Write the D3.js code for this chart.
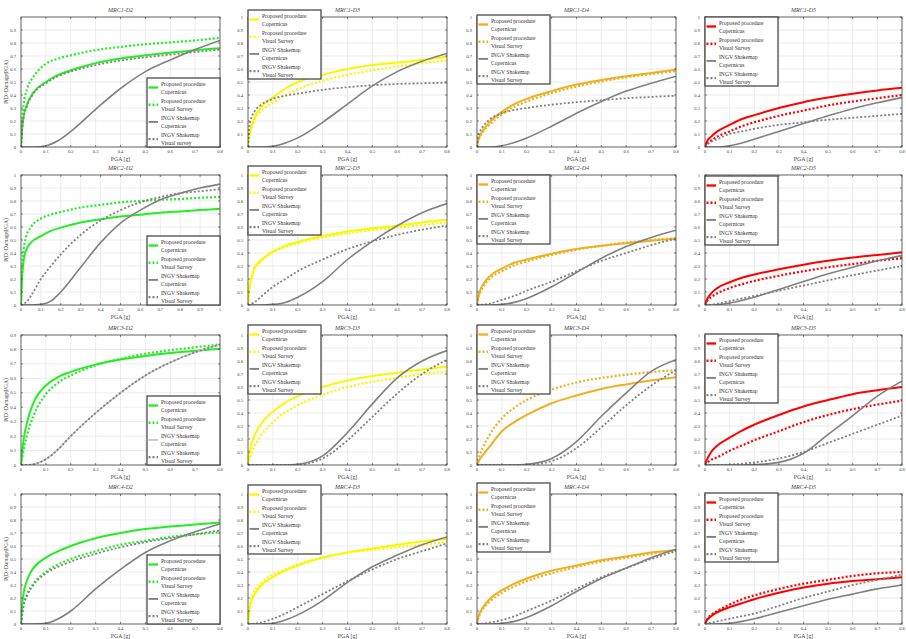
<!DOCTYPE html>
<html>
<head>
<meta charset="utf-8">
<script src="https://cdn.jsdelivr.net/npm/d3@7"></script>
<style>
  body { margin: 0; background: #fff; }
  svg { display: block; font-family: "Liberation Serif", "DejaVu Serif", serif; }
</style>
</head>
<body>
<svg id="chart" width="906" height="639"></svg>
<script>
// PGA sample points [g]
const pga = [0, 0.005, 0.01, 0.025, 0.05, 0.1, 0.15, 0.2, 0.3, 0.4, 0.5, 0.6, 0.7, 0.8];
const pgaLong = [0, 0.005, 0.01, 0.025, 0.05, 0.1, 0.15, 0.2, 0.3, 0.4, 0.5, 0.6, 0.7, 0.8, 0.9, 1.0];

// pc = proposed/Copernicus, pv = proposed/visual, ic = INGV/Copernicus, iv = INGV/visual
// MRC1
const p1_pc = [0, .15, .23, .33, .42, .50, .555, .59, .645, .68, .705, .725, .745, .76];
const p1_pv = [0, .2, .32, .45, .54, .64, .68, .705, .745, .77, .79, .805, .82, .84];
const p1_ic = [0, 0, 0, 0, 0, .01, .05, .12, .29, .45, .58, .67, .75, .82];
const p1_iv = [0, .14, .22, .32, .41, .49, .545, .58, .63, .665, .69, .71, .73, .75];

const p2_pc = [0, .08, .13, .22, .30, .38, .45, .50, .555, .60, .63, .65, .67, .695];
const p2_pv = [0, .07, .12, .20, .27, .34, .40, .445, .51, .555, .59, .62, .645, .665];
const p2_ic = [0, 0, 0, 0, 0, .005, .03, .07, .19, .33, .47, .58, .66, .72];
const p2_iv = [0, .15, .2, .27, .32, .37, .395, .41, .44, .46, .475, .485, .49, .495];

const p3_pc = [0, .05, .08, .13, .19, .27, .33, .37, .43, .48, .515, .545, .57, .595];
const p3_pv = [0, .045, .07, .12, .17, .25, .31, .35, .415, .465, .505, .535, .56, .585];
const p3_ic = [0, 0, 0, 0, 0, .01, .035, .07, .16, .26, .35, .43, .49, .545];
const p3_iv = [0, .08, .11, .16, .21, .26, .285, .3, .325, .345, .36, .375, .385, .395];

const p4_pc = [0, .03, .05, .08, .12, .17, .215, .245, .3, .345, .38, .41, .435, .455];
const p4_pv = [0, .02, .03, .05, .08, .12, .16, .19, .24, .28, .32, .35, .375, .4];
const p4_ic = [0, 0, 0, 0, 0, .01, .03, .06, .12, .18, .24, .295, .34, .38];
const p4_iv = [0, .01, .02, .04, .06, .1, .12, .14, .17, .19, .21, .225, .24, .255];

// MRC2
const p5_pc = [0, .2, .3, .42, .48, .53, .57, .595, .635, .66, .68, .695, .71, .72, .73, .74];
const p5_pv = [0, .25, .38, .52, .6, .665, .695, .715, .75, .77, .79, .8, .81, .815, .825, .83];
const p5_ic = [0, 0, 0, 0, 0, .005, .03, .1, .29, .48, .63, .73, .81, .86, .9, .93];
const p5_iv = [0, 0, .005, .02, .07, .2, .3, .39, .54, .65, .73, .79, .83, .86, .875, .89];

const p6_pc = [0, .12, .18, .28, .34, .41, .455, .485, .53, .565, .59, .61, .635, .655];
const p6_pv = [0, .11, .17, .27, .33, .405, .445, .475, .52, .55, .575, .595, .615, .635];
const p6_ic = [0, 0, 0, 0, 0, .005, .02, .06, .18, .35, .49, .61, .71, .78];
const p6_iv = [0, 0, .005, .02, .06, .14, .2, .26, .35, .43, .49, .54, .58, .61];

const p7_pc = [0, .06, .1, .16, .22, .28, .325, .35, .395, .43, .455, .475, .495, .51];
const p7_pv = [0, .05, .08, .14, .2, .26, .305, .335, .385, .425, .455, .48, .5, .515];
const p7_ic = [0, 0, 0, 0, 0, .005, .02, .05, .14, .25, .36, .45, .52, .575];
const p7_iv = [0, 0, 0, .003, .01, .04, .07, .11, .18, .26, .34, .4, .46, .51];

const p8_pc = [0, .03, .05, .09, .13, .175, .21, .235, .275, .31, .34, .365, .385, .405];
const p8_pv = [0, .02, .035, .06, .09, .13, .16, .185, .225, .26, .29, .315, .34, .36];
const p8_ic = [0, 0, 0, 0, .003, .015, .035, .06, .12, .18, .24, .29, .34, .38];
const p8_iv = [0, 0, 0, .003, .01, .03, .05, .07, .11, .15, .19, .23, .265, .3];

// MRC3
const p9_pc = [0, .1, .17, .3, .43, .55, .61, .645, .695, .73, .755, .775, .79, .805];
const p9_pv = [0, .05, .1, .21, .34, .49, .57, .62, .69, .735, .77, .795, .815, .835];
const p9_ic = [0, 0, 0, 0, .005, .04, .11, .2, .36, .5, .62, .71, .78, .835];
const p9_iv = [0, 0, 0, 0, .005, .04, .11, .2, .36, .5, .62, .71, .78, .835];

const p10_pc = [0, .08, .13, .22, .31, .41, .48, .53, .6, .65, .685, .71, .735, .755];
const p10_pv = [0, .04, .07, .14, .22, .33, .405, .46, .54, .6, .64, .67, .7, .72];
const p10_ic = [0, 0, 0, 0, 0, 0, 0, .005, .07, .25, .47, .67, .8, .88];
const p10_iv = [0, 0, 0, 0, 0, 0, 0, .003, .05, .19, .37, .55, .7, .81];

const p11_pc = [0, .02, .04, .08, .14, .26, .33, .385, .475, .535, .585, .62, .65, .675];
const p11_pv = [0, .04, .07, .14, .23, .36, .44, .5, .58, .635, .67, .695, .715, .73];
const p11_ic = [0, 0, 0, 0, 0, 0, 0, .005, .05, .18, .375, .555, .72, .81];
const p11_iv = [0, 0, 0, 0, 0, 0, 0, .003, .03, .13, .29, .46, .61, .73];

const p12_pc = [0, .03, .05, .1, .15, .21, .265, .31, .385, .45, .5, .545, .575, .6];
const p12_pv = [0, .01, .02, .04, .06, .11, .15, .19, .26, .33, .385, .43, .465, .495];
const p12_ic = [0, 0, 0, 0, 0, 0, 0, .003, .02, .09, .235, .38, .53, .645];
const p12_iv = [0, 0, 0, 0, 0, .003, .01, .02, .05, .1, .17, .24, .31, .38];

// MRC4
const p13_pc = [0, .15, .23, .34, .43, .51, .56, .6, .66, .7, .73, .75, .765, .78];
const p13_pv = [0, .08, .14, .23, .31, .4, .46, .5, .56, .61, .64, .67, .69, .705];
const p13_ic = [0, 0, 0, 0, 0, .005, .04, .1, .27, .42, .55, .64, .71, .77];
const p13_iv = [0, .08, .14, .22, .3, .39, .44, .48, .54, .59, .63, .66, .69, .72];

const p14_pc = [0, .1, .15, .22, .29, .36, .41, .45, .51, .55, .58, .61, .635, .655];
const p14_pv = [0, .12, .17, .25, .31, .38, .42, .46, .51, .55, .57, .59, .61, .63];
const p14_ic = [0, 0, 0, 0, 0, .005, .03, .07, .18, .32, .44, .53, .61, .67];
const p14_iv = [0, 0, 0, .003, .01, .04, .08, .13, .23, .33, .42, .5, .56, .62];

const p15_pc = [0, .05, .08, .13, .19, .26, .31, .35, .41, .45, .49, .52, .55, .57];
const p15_pv = [0, .04, .07, .12, .17, .24, .29, .33, .39, .44, .48, .51, .54, .565];
const p15_ic = [0, 0, 0, 0, 0, .005, .02, .05, .14, .25, .35, .43, .51, .575];
const p15_iv = [0, 0, 0, .003, .01, .03, .06, .1, .18, .27, .36, .43, .5, .56];

const p16_pc = [0, .02, .035, .06, .09, .13, .16, .19, .24, .28, .31, .33, .345, .36];
const p16_pv = [0, .02, .04, .07, .1, .15, .19, .22, .27, .31, .34, .37, .39, .4];
const p16_ic = [0, 0, 0, 0, 0, .005, .02, .04, .09, .14, .19, .23, .27, .3];
const p16_iv = [0, 0, .005, .01, .02, .04, .06, .08, .14, .2, .25, .3, .34, .38];

const legendNames = [
  ["Proposed procedure", "Copernicus"],
  ["Proposed procedure", "Visual Survey"],
  ["INGV Shakemap", "Copernicus"],
  ["INGV Shakemap", "Visual Survey"]
];

const green = "#22ee22", yellow = "#f8f800", orange = "#edb120", red = "#ff0000", gray = "#808080";

const panels = [
  { title: "MRC1-D2", row: 0, col: 0, color: green,  x: pga, s: [p1_pc, p1_pv, p1_ic, p1_iv], yTop: 0.9, legendDy: 0, lastLabel: "Visual survey" },
  { title: "MRC1-D3", row: 0, col: 1, color: yellow, x: pga, s: [p2_pc, p2_pv, p2_ic, p2_iv], yTop: 1, legendDy: -7 },
  { title: "MRC1-D4", row: 0, col: 2, color: orange, x: pga, s: [p3_pc, p3_pv, p3_ic, p3_iv], yTop: 1, legendDy: -2 },
  { title: "MRC1-D5", row: 0, col: 3, color: red,    x: pga, s: [p4_pc, p4_pv, p4_ic, p4_iv], yTop: 1, legendDy: 0 },
  { title: "MRC2-D2", row: 1, col: 0, color: green,  x: pgaLong, s: [p5_pc, p5_pv, p5_ic, p5_iv], yTop: 1, legendDy: 0 },
  { title: "MRC2-D3", row: 1, col: 1, color: yellow, x: pga, s: [p6_pc, p6_pv, p6_ic, p6_iv], yTop: 1, legendDy: -9 },
  { title: "MRC2-D4", row: 1, col: 2, color: orange, x: pga, s: [p7_pc, p7_pv, p7_ic, p7_iv], yTop: 1, legendDy: 0 },
  { title: "MRC2-D5", row: 1, col: 3, color: red,    x: pga, s: [p8_pc, p8_pv, p8_ic, p8_iv], yTop: 1, legendDy: 1 },
  { title: "MRC3-D2", row: 2, col: 0, color: green,  x: pga, s: [p9_pc, p9_pv, p9_ic, p9_iv], yTop: 0.9, yMax: 0.9, legendDy: 0, icColor: "#c8c8c8" },
  { title: "MRC3-D3", row: 2, col: 1, color: yellow, x: pga, s: [p10_pc, p10_pv, p10_ic, p10_iv], yTop: 1, legendDy: -10 },
  { title: "MRC3-D4", row: 2, col: 2, color: orange, x: pga, s: [p11_pc, p11_pv, p11_ic, p11_iv], yTop: 1, legendDy: -10 },
  { title: "MRC3-D5", row: 2, col: 3, color: red,    x: pga, s: [p12_pc, p12_pv, p12_ic, p12_iv], yTop: 1, legendDy: -1 },
  { title: "MRC4-D2", row: 3, col: 0, color: green,  x: pga, s: [p13_pc, p13_pv, p13_ic, p13_iv], yTop: 1, legendDy: 0 },
  { title: "MRC4-D3", row: 3, col: 1, color: yellow, x: pga, s: [p14_pc, p14_pv, p14_ic, p14_iv], yTop: 1, legendDy: -9 },
  { title: "MRC4-D4", row: 3, col: 2, color: orange, x: pga, s: [p15_pc, p15_pv, p15_ic, p15_iv], yTop: 1, legendDy: -11 },
  { title: "MRC4-D5", row: 3, col: 3, color: red,    x: pga, s: [p16_pc, p16_pv, p16_ic, p16_iv], yTop: 1, legendDy: -1 }
];

// layout
const colLeft = [21, 248, 477, 705];
const colWidth = [199, 199, 199, 197];
const rowTop = [17, 175, 335, 494];
const plotH = 130;
const legW = 73, legH = 69, entryH = 17.2;

const svg = d3.select("#chart");

panels.forEach((p, idx) => {
  const left = colLeft[p.col], top = rowTop[p.row];
  const plotW = colWidth[p.col];
  const xMax = p.x[p.x.length - 1];
  const yMax = p.yMax || 1;

  const x = d3.scaleLinear().domain([0, xMax]).range([0, plotW]);
  const y = d3.scaleLinear().domain([0, yMax]).range([plotH, 0]);

  const g = svg.append("g").attr("transform", `translate(${left},${top})`);

  const clipId = "clip" + idx;
  g.append("clipPath").attr("id", clipId)
    .append("rect").attr("width", plotW).attr("height", plotH);

  const xTicks = d3.range(0, xMax + 1e-9, 0.1).map(v => +v.toFixed(1));
  const yTicks = d3.range(0, p.yTop + 1e-9, 0.1).map(v => +v.toFixed(1));

  // grid
  g.append("g").selectAll("line").data(xTicks.slice(1, -1)).enter().append("line")
    .attr("x1", d => x(d)).attr("x2", d => x(d))
    .attr("y1", 0).attr("y2", plotH)
    .attr("stroke", "#e4e4e4").attr("stroke-width", 0.7);
  g.append("g").selectAll("line").data(yTicks.filter(v => v > 0 && v < yMax)).enter().append("line")
    .attr("x1", 0).attr("x2", plotW)
    .attr("y1", d => y(d)).attr("y2", d => y(d))
    .attr("stroke", "#e4e4e4").attr("stroke-width", 0.7);

  // curves
  const line = d3.line()
    .x(d => x(d[0]))
    .y(d => y(d[1]))
    .curve(d3.curveMonotoneX);

  const styles = [
    { color: p.color, dash: null, w: 2 },
    { color: p.color, dash: "2,2", w: 2.2 },
    { color: p.icColor || gray, dash: null, w: 1.6 },
    { color: gray, dash: "2,2", w: 1.8 }
  ];

  const curves = g.append("g").attr("clip-path", `url(#${clipId})`);
  p.s.forEach((vals, i) => {
    curves.append("path")
      .datum(vals.map((v, k) => [p.x[k], v]))
      .attr("fill", "none")
      .attr("stroke", styles[i].color)
      .attr("stroke-width", styles[i].w)
      .attr("stroke-dasharray", styles[i].dash)
      .attr("d", line);
  });

  // axes box with inward ticks
  const tickLen = 2;
  const axisCol = "#3a3a3a";
  g.append("rect").attr("width", plotW).attr("height", plotH)
    .attr("fill", "none").attr("stroke", axisCol).attr("stroke-width", 0.8);

  const ticks = g.append("g").attr("stroke", axisCol).attr("stroke-width", 0.6);
  xTicks.forEach(v => {
    ticks.append("line").attr("x1", x(v)).attr("x2", x(v)).attr("y1", plotH).attr("y2", plotH - tickLen);
    ticks.append("line").attr("x1", x(v)).attr("x2", x(v)).attr("y1", 0).attr("y2", tickLen);
  });
  yTicks.forEach(v => {
    ticks.append("line").attr("x1", 0).attr("x2", tickLen).attr("y1", y(v)).attr("y2", y(v));
    ticks.append("line").attr("x1", plotW).attr("x2", plotW - tickLen).attr("y1", y(v)).attr("y2", y(v));
  });

  // tick labels
  g.append("g").selectAll("text").data(xTicks).enter().append("text")
    .attr("x", d => x(d)).attr("y", plotH + 6)
    .attr("text-anchor", "middle")
    .attr("font-size", 4.6).attr("fill", "#444")
    .text(d => d3.format("~g")(d));
  g.append("g").selectAll("text").data(yTicks).enter().append("text")
    .attr("x", -5).attr("y", d => y(d) + 1.5)
    .attr("text-anchor", "end")
    .attr("font-size", 4.6).attr("fill", "#444")
    .text(d => d3.format("~g")(d));

  // title and axis labels
  g.append("text")
    .attr("x", plotW / 2).attr("y", -5)
    .attr("text-anchor", "middle")
    .attr("font-size", 6).attr("font-style", "italic").attr("fill", "#444")
    .text(p.title);

  g.append("text")
    .attr("x", plotW / 2).attr("y", plotH + 14)
    .attr("text-anchor", "middle")
    .attr("font-size", 5.8).attr("fill", "#444")
    .text("PGA [g]");

  if (p.col === 0) {
    g.append("text")
      .attr("transform", `translate(-13,${plotH / 2}) rotate(-90)`)
      .attr("text-anchor", "middle")
      .attr("font-size", 5.4).attr("fill", "#444")
      .text("P(D>Damage|PGA)");
  }

  // legend
  const lx = p.col === 0 ? plotW - legW : 0;
  const ly = p.col === 0 ? plotH - legH : p.legendDy;
  const leg = g.append("g").attr("transform", `translate(${lx},${ly})`);
  leg.append("rect").attr("width", legW).attr("height", legH)
    .attr("fill", "#fff").attr("stroke", "#4a4a4a").attr("stroke-width", 1.3);

  legendNames.forEach((names, i) => {
    const cy = 9.5 + i * entryH;
    const st = styles[i];
    leg.append("line")
      .attr("x1", 1.5).attr("x2", 11).attr("y1", cy).attr("y2", cy)
      .attr("stroke", st.color).attr("stroke-width", st.w + 0.3)
      .attr("stroke-dasharray", st.dash);
    const second = (i === 3 && p.lastLabel) ? p.lastLabel : names[1];
    leg.append("text").attr("x", 14).attr("y", cy - 2)
      .attr("font-size", 5.6).attr("fill", "#333").text(names[0]);
    leg.append("text").attr("x", 14).attr("y", cy + 6)
      .attr("font-size", 5.6).attr("fill", "#333").text(second);
  });
});
</script>
</body>
</html>
